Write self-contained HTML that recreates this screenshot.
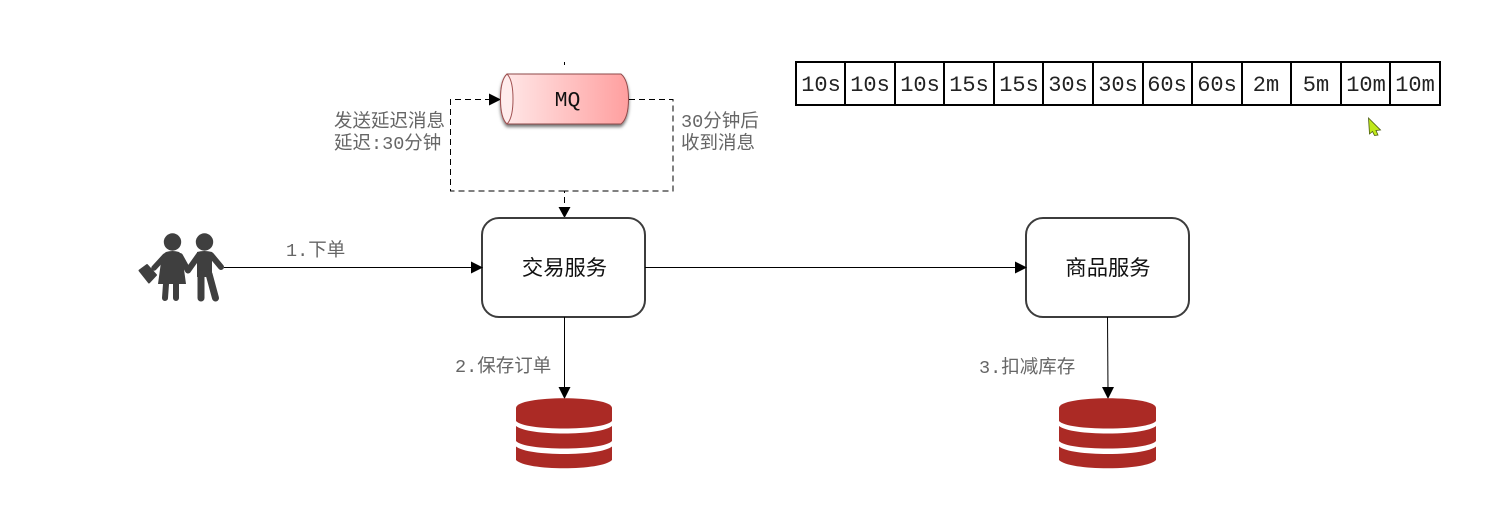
<!DOCTYPE html>
<html><head><meta charset="utf-8">
<style>
html,body{margin:0;padding:0;background:#fff;width:1506px;height:506px;overflow:hidden}
svg{display:block}
text{font-family:"Liberation Mono","WenQuanYi Zen Hei","Noto Sans CJK SC",monospace}
.lbl{font-size:18.5px;fill:#666}
.cell{font-size:22px;fill:#222;text-anchor:middle}
.svc{font-size:21.3px;fill:#111;text-anchor:middle}
</style></head>
<body>
<svg width="1506" height="506" viewBox="0 0 1506 506" xmlns="http://www.w3.org/2000/svg">
<defs>
<linearGradient id="g" x1="0" x2="1" y1="0" y2="0"><stop offset="0" stop-color="#ffeaea"/><stop offset="1" stop-color="#ff9f9f"/></linearGradient>
<filter id="s" x="-5%" y="-10%" width="110%" height="140%"><feDropShadow dx="0" dy="2.500" stdDeviation="1.500" flood-color="#000" flood-opacity=".55"/></filter>
</defs>

<!-- table -->
<g fill="none" stroke="#000" stroke-width="2">
<rect x="796" y="62" width="644" height="43"/>
<path d="M845 62V105M895 62V105M944 62V105M994 62V105M1043 62V105M1093 62V105M1143 62V105M1192 62V105M1242 62V105M1291 62V105M1341 62V105M1390 62V105"/>
</g>
<text class="cell" x="821" y="91">10s</text><text class="cell" x="870" y="91">10s</text><text class="cell" x="920" y="91">10s</text><text class="cell" x="969" y="91">15s</text><text class="cell" x="1019" y="91">15s</text><text class="cell" x="1068" y="91">30s</text><text class="cell" x="1118" y="91">30s</text><text class="cell" x="1167" y="91">60s</text><text class="cell" x="1217" y="91">60s</text><text class="cell" x="1266" y="91">2m</text><text class="cell" x="1316" y="91">5m</text><text class="cell" x="1366" y="91">10m</text><text class="cell" x="1415" y="91">10m</text>

<!-- cursor -->
<path d="M1368.500 118L1380.500 130L1376 130.500L1378 135L1374.500 135.500L1372.500 131.500L1369.500 134Z" fill="#bfe81a" stroke="#4a5a10" stroke-width=".8"/>

<!-- small tick -->
<path d="M564.500 62V65" stroke="#000" stroke-width="1"/>

<!-- dashed connectors -->
<g fill="none" stroke="#000" stroke-width="1" stroke-dasharray="6 4">
<path d="M564.500 191H450.500V99.500H490"/>
<path d="M629 99.500H673V191H564.500V209"/>
</g>
<path d="M489 93.500L501 99.500L489 105.500Z" fill="#000"/>
<path d="M558.500 207L564.500 218L570.500 207Z" fill="#000"/>

<!-- MQ -->
<g filter="url(#s)">
<path d="M507 74H621Q628.500 80 628.500 99Q628.500 118 621 124H507Q500.500 118 500.500 99Q500.500 80 507 74Z" fill="url(#g)" stroke="#8f4a4a" stroke-width="1"/>
</g>
<path d="M507 74Q513 80 513 99Q513 118 507 124Q500.500 118 500.500 99Q500.500 80 507 74Z" fill="#ffecec" stroke="#a05050" stroke-width="1"/>
<text x="567.500" y="106" font-size="21.500" fill="#111" text-anchor="middle">MQ</text>

<!-- labels -->
<text class="lbl" x="334" y="127">发送延迟消息</text>
<text class="lbl" x="334" y="149">延迟:30分钟</text>
<text class="lbl" x="681" y="127">30分钟后</text>
<text class="lbl" x="681" y="149">收到消息</text>
<text class="lbl" x="286" y="256">1.下单</text>
<text class="lbl" x="455" y="372">2.保存订单</text>
<text class="lbl" x="979" y="373">3.扣减库存</text>

<!-- services -->
<rect x="482" y="218" width="163" height="99" rx="17" ry="17" fill="#fff" stroke="#3c3c3c" stroke-width="2"/>
<rect x="1026" y="218" width="163" height="99" rx="17" ry="17" fill="#fff" stroke="#3c3c3c" stroke-width="2"/>
<text class="svc" x="564.500" y="275">交易服务</text>
<text class="svc" x="1108" y="275">商品服务</text>

<!-- solid connectors -->
<g fill="none" stroke="#000" stroke-width="1">
<path d="M224 267.500H473"/>
<path d="M645 267.500H1017"/>
<path d="M564.500 317V390"/>
<path d="M1107.500 317L1108 390"/>
</g>
<g fill="#000">
<path d="M471 261.500L483 267.500L471 273.500Z"/>
<path d="M1015 261.500L1027 267.500L1015 273.500Z"/>
<path d="M558.500 387L564.500 399L570.500 387Z"/>
<path d="M1102 387L1108 399L1114 387Z"/>
</g>

<!-- people -->
<g fill="#3f3f3f" stroke="none">
<circle cx="172.500" cy="242" r="8.700"/>
<circle cx="204.500" cy="242" r="8.700"/>
<path d="M166 252Q172.500 250 179 252Q182 254 183 262L186 284H158L161 262Q162 254 166 252Z"/>
<path d="M197 252Q204 250 212 252V277H197Z"/>
</g>
<g fill="none" stroke="#3f3f3f" stroke-linecap="round" stroke-linejoin="round">
<path d="M165 256L154 268" stroke-width="5.500"/>
<path d="M180 256L188 270.500L199 255" stroke-width="6"/>
<path d="M211 255L221 267" stroke-width="6"/>
<path d="M166 284L165 298M176 284L176 298" stroke-width="6"/>
<path d="M201 274L201 298M209 274L215.500 298" stroke-width="7"/>
</g>
<path d="M139.500 270.500L147 265L156 275L149 282.500Z" fill="#3f3f3f" stroke="#3f3f3f" stroke-width="2" stroke-linejoin="round"/>

<!-- databases -->
<g fill="#ab2a25">
<path d="M516 408C516 395 612 395 612 408V421C604 431 524 431 516 421Z"/>
<path d="M516 426C528 436 600 436 612 426V441C604 451 524 451 516 441Z"/>
<path d="M516 446.500C528 456.500 600 456.500 612 446.500V460C602 471 526 471 516 460Z"/>
<path d="M1059 408C1059 395 1156 395 1156 408V421C1148 431 1067 431 1059 421Z"/>
<path d="M1059 426C1071 436 1144 436 1156 426V441C1148 451 1067 451 1059 441Z"/>
<path d="M1059 446.500C1071 456.500 1144 456.500 1156 446.500V460C1146 471 1069 471 1059 460Z"/>
</g>
</svg>
</body></html>
